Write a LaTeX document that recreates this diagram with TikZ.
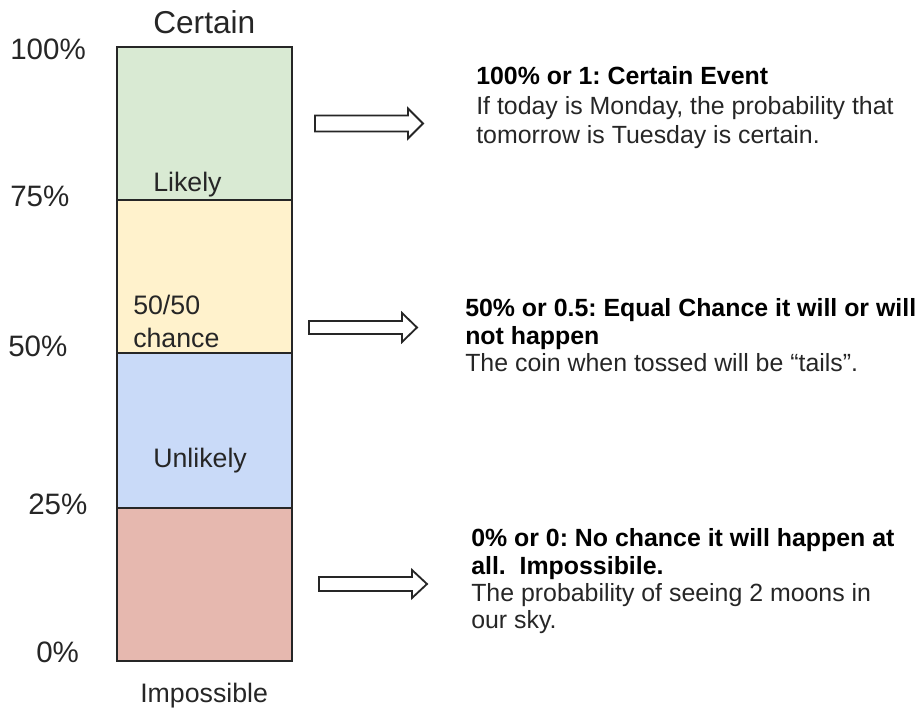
\documentclass[tikz,border=0pt]{standalone}
\usepackage{fontspec}
\setmainfont{Liberation Sans}
\frenchspacing
\definecolor{certaingreen}{HTML}{D9EAD3}
\definecolor{evenyellow}{HTML}{FFF2CC}
\definecolor{unlikelyblue}{HTML}{C9DAF8}
\definecolor{impossiblered}{HTML}{E6B8AF}
\definecolor{ink}{HTML}{262626}

\begin{document}
\begin{tikzpicture}[x=0.025cm, y=-0.025cm,
  band/.style={draw=ink, line width=1pt},
  hollow/.style={draw=ink, line width=1.3pt, fill=white, line join=miter},
  pct/.style={anchor=base west, text=ink, inner sep=0pt, font=\fontsize{21}{25}\selectfont},
  inlabel/.style={anchor=base west, text=ink, inner sep=0pt, font=\fontsize{19}{23}\selectfont},
  headtext/.style={anchor=base west, text=black, inner sep=0pt, font=\fontsize{17.7}{21}\selectfont\bfseries},
  bodytext/.style={anchor=base west, text=ink, inner sep=0pt, font=\fontsize{17.7}{21}\selectfont}]
  \useasboundingbox (0,0) rectangle (917,708);

  % Corners of the probability bar (one unit = one pixel, y runs down)
  \coordinate (B0) at (117,661); % 0%
  \coordinate (B25) at (292,508); % 25%
  \coordinate (B50) at (292,353); % 50%
  \coordinate (B75) at (292,200); % 75%
  \coordinate (B100) at (117,47); % 100%

  % Coloured bands
  \filldraw[band, fill=impossiblered] (B0) rectangle (B25);
  \filldraw[band, fill=unlikelyblue] (117,508) rectangle (B50);
  \filldraw[band, fill=evenyellow] (117,353) rectangle (B75);
  \filldraw[band, fill=certaingreen] (117,200) rectangle (292,47);

  % Percent scale
  \node[pct] (p100) at (10,60) {100\%};
  \node[pct] (p75) at (10,207) {75\%};
  \node[pct] (p50) at (8,357) {50\%};
  \node[pct] (p25) at (28,515) {25\%};
  \node[pct] (p0) at (36,663) {0\%};

  % Band labels
  \node[pct, font=\fontsize{22.5}{26}\selectfont] (certain) at (153,34) {Certain};
  \node[inlabel] (likely) at (153,192) {Likely};
  \node[inlabel] (fifty) at (133,315) {50/50};
  \node[inlabel] (chance) at (133,348) {chance};
  \node[inlabel] (unlikely) at (153,468) {Unlikely};
  \node[inlabel] (impossible) at (140,702) {Impossible};

  % Hollow arrows (start of shaft, middle)
  \coordinate (A1) at (315,123.5);
  \coordinate (A2) at (309,327.5);
  \coordinate (A3) at (319,584);
  \draw[hollow] (A1) ++(0,-8) -- ++(93,0) -- ++(0,-7) -- ++(15,15) -- ++(-15,15) -- ++(0,-7) -- ++(-93,0) -- cycle;
  \draw[hollow] (A2) ++(0,-6.5) -- ++(93,0) -- ++(0,-8) -- ++(15,14.5) -- ++(-15,14.5) -- ++(0,-8) -- ++(-93,0) -- cycle;
  \draw[hollow] (A3) ++(0,-7) -- ++(93,0) -- ++(0,-7) -- ++(15,14) -- ++(-15,14) -- ++(0,-7) -- ++(-93,0) -- cycle;

  % Explanations
  \node[headtext] (t1a) at (476,85) {100\% or 1: Certain Event};
  \node[bodytext] (t1b) at (476,114.5) {If today is Monday, the probability that};
  \node[bodytext] (t1c) at (476,144) {tomorrow is Tuesday is certain.};

  \node[headtext] (t2a) at (465,317) {50\% or 0.5: Equal Chance it will or will};
  \node[headtext] (t2b) at (465,345) {not happen};
  \node[bodytext] (t2c) at (465,372) {The coin when tossed will be “tails”.};

  \node[headtext] (t3a) at (471,547) {0\% or 0: No chance it will happen at};
  \node[headtext] (t3b) at (471,575) {all.\ \ Impossibile.};
  \node[bodytext] (t3c) at (471,602) {The probability of seeing 2 moons in};
  \node[bodytext] (t3d) at (471,629) {our sky.};
\end{tikzpicture}
\end{document}
